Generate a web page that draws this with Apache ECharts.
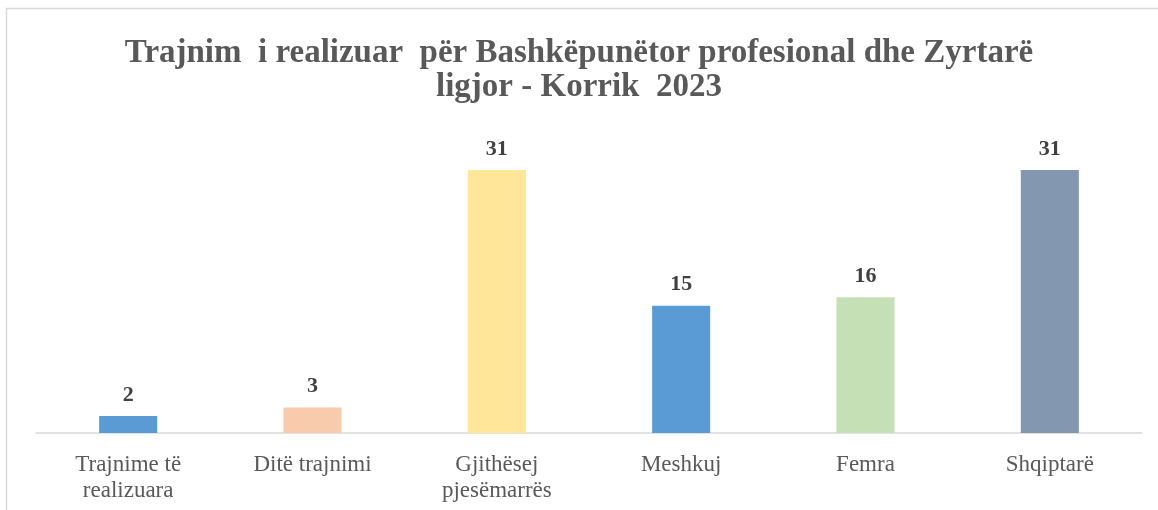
<!DOCTYPE html>
<html>
<head>
<meta charset="utf-8">
<script src="https://cdn.jsdelivr.net/npm/echarts@6/dist/echarts.min.js"></script>
<style>
  html, body { margin: 0; padding: 0; background: #fff; }
  #chart { width: 1158px; height: 510px; }
</style>
</head>
<body>
<div id="chart"></div>
<script>
// kategoritë dhe vlerat
const categories = [
  "Trajnime të\nrealizuara",
  "Ditë trajnimi",
  "Gjithësej\npjesëmarrës",
  "Meshkuj",
  "Femra",
  "Shqiptarë",
];
const values = [2, 3, 31, 15, 16, 31];
const barColors = ["#5B9BD5", "#F8CBAD", "#FFE699", "#5B9BD5", "#C5E0B4", "#8497B0"];

const chart = echarts.init(document.getElementById("chart"));

const option = {
  backgroundColor: "#fff",
  animation: false,
  title: {
    text: "Trajnim  i realizuar  për Bashkëpunëtor profesional dhe Zyrtarë\nligjor - Korrik  2023",
    left: "center",
    top: 31,
    textStyle: {
      fontFamily: "Liberation Serif",
      fontWeight: "bold",
      fontSize: 33,
      lineHeight: 34,
      color: "#595959",
    },
  },
  graphic: [
    {
      type: "rect",
      shape: { x: 6.5, y: 8.5, width: 1200, height: 600 },
      style: { fill: "none", stroke: "#d9d9d9", lineWidth: 1.5 },
      silent: true,
    },
  ],
  grid: {
    left: 36,
    right: 16,
    top: 136,
    bottom: 77,
  },
  xAxis: {
    type: "category",
    data: categories,
    axisLine: { lineStyle: { color: "#d9d9d9", width: 1.5 } },
    axisTick: { show: false },
    axisLabel: {
      margin: 19,
      fontFamily: "Liberation Serif",
      fontSize: 23,
      lineHeight: 26,
      color: "#595959",
      interval: 0,
    },
  },
  yAxis: {
    type: "value",
    min: 0,
    max: 35,
    show: false,
    splitLine: { show: false },
  },
  series: [
    {
      type: "bar",
      barWidth: "31.5%",
      data: values.map((v, i) => ({ value: v, itemStyle: { color: barColors[i] } })),
      label: {
        show: true,
        position: "top",
        distance: 10,
        fontFamily: "Liberation Serif",
        fontWeight: "bold",
        fontSize: 22,
        color: "#404040",
      },
    },
  ],
};

chart.setOption(option);
</script>
</body>
</html>
